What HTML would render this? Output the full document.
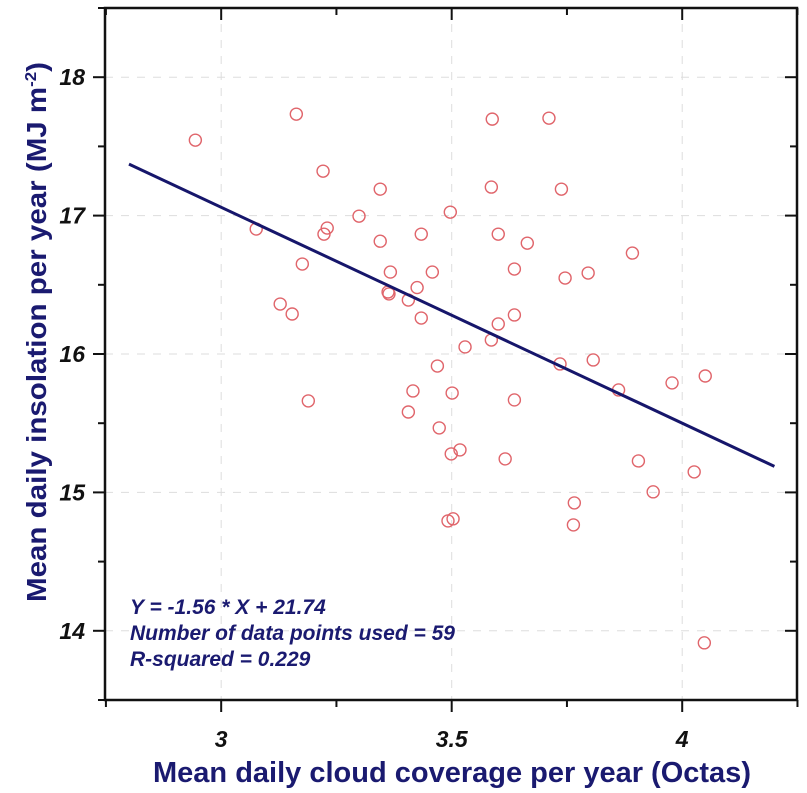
<!DOCTYPE html>
<html><head><meta charset="utf-8"><style>
body{margin:0;background:#fff;}
svg{display:block;font-family:"Liberation Sans",sans-serif;}
</style></head><body>
<svg id="chart" width="807" height="793">
<g id="grid"></g>
<g id="axes"></g>
<g id="marks"></g>
<text x="130" y="614" font-size="21" font-style="italic" font-weight="bold" fill="#1a1a70">Y = -1.56 * X + 21.74</text>
<text x="130" y="640" font-size="21" font-style="italic" font-weight="bold" fill="#1a1a70">Number of data points used = 59</text>
<text x="130" y="666" font-size="21" font-style="italic" font-weight="bold" fill="#1a1a70">R-squared = 0.229</text>
<text x="452" y="782" text-anchor="middle" font-size="29" font-weight="bold" fill="#1a1a70">Mean daily cloud coverage per year (Octas)</text>
<text transform="translate(46,332) rotate(-90)" text-anchor="middle" font-size="28" font-weight="bold" fill="#1a1a70" textLength="540" lengthAdjust="spacingAndGlyphs">Mean daily insolation per year (MJ m<tspan dy="-10" font-size="16">-2</tspan><tspan dy="10">)</tspan></text>
</svg>
<script>
const xTicks=[3,3.5,4];
const yTicks=[14,15,16,17,18];
const cloudX=[2.944,3.163,3.588,3.711,3.221,3.299,3.345,3.497,3.586,3.738,3.892,3.076,3.230,3.223,3.176,3.345,3.434,3.601,3.664,3.367,3.458,3.636,3.746,3.796,3.362,3.364,3.406,3.425,3.434,3.128,3.154,3.601,3.636,3.586,3.529,3.469,3.735,3.807,3.189,3.416,3.406,3.501,3.636,3.862,3.978,4.050,3.473,3.499,3.518,3.616,3.905,4.026,3.937,3.766,3.764,3.492,3.503,4.048];
const insolY=[17.545,17.733,17.697,17.704,17.321,16.996,17.191,17.025,17.206,17.191,16.729,16.903,16.910,16.866,16.650,16.815,16.866,16.866,16.801,16.592,16.592,16.614,16.549,16.585,16.448,16.434,16.390,16.480,16.260,16.361,16.289,16.217,16.282,16.101,16.051,15.913,15.928,15.957,15.661,15.733,15.581,15.718,15.668,15.740,15.791,15.841,15.466,15.278,15.307,15.242,15.227,15.148,15.004,14.924,14.765,14.794,14.809,13.913];
const slope=-1.56, intercept=21.74, fitRange=[2.8,4.2];
const L=105,R=797,T=8,B=700,X0=2.748,X1=4.249,Y0=13.5,Y1=18.5;
const sx=v=>L+(v-X0)/(X1-X0)*(R-L);
const sy=v=>B-(v-Y0)/(Y1-Y0)*(B-T);
const NS='http://www.w3.org/2000/svg';
function mk(t,a,p){const e=document.createElementNS(NS,t);for(const k in a)e.setAttribute(k,a[k]);p.appendChild(e);return e;}
const grid=document.getElementById('grid'),axes=document.getElementById('axes'),marks=document.getElementById('marks');
xTicks.forEach(v=>{const g=mk('line',{x1:sx(v),x2:sx(v),y1:T,y2:B,stroke:'#ddd','stroke-dasharray':'8,8','stroke-width':1},grid);


const t=mk('text',{x:sx(v),y:747,'text-anchor':'middle','font-size':23,'font-weight':'bold','font-style':'italic',fill:'#111'},axes);t.textContent=v;

});
yTicks.forEach(v=>{const g=mk('line',{x1:L,x2:R,y1:sy(v),y2:sy(v),stroke:'#ddd','stroke-dasharray':'8,8','stroke-width':1},grid);


const t=mk('text',{x:85,y:sy(v)+8,'text-anchor':'end','font-size':23,'font-weight':'bold','font-style':'italic',fill:'#111'},axes);t.textContent=v;

});
for(let v=2.75;v<=4.25;v+=0.25){const maj=Math.abs(v*2-Math.round(v*2))<1e-6;const len=maj?12:7;
mk('line',{x1:sx(v),x2:sx(v),y1:B,y2:B+len,stroke:'#111','stroke-width':2},axes);
mk('line',{x1:sx(v),x2:sx(v),y1:T,y2:T+len,stroke:'#111','stroke-width':2},axes);}
for(let v=13.5;v<=18.5;v+=0.5){const maj=Math.abs(v-Math.round(v))<1e-6;const len=maj?12:7;
mk('line',{x1:L-len,x2:L,y1:sy(v),y2:sy(v),stroke:'#111','stroke-width':2},axes);
mk('line',{x1:R-len,x2:R,y1:sy(v),y2:sy(v),stroke:'#111','stroke-width':2},axes);}
const fr=mk('rect',{x:L,y:T,width:R-L,height:B-T,fill:'none',stroke:'#111','stroke-width':2.5},axes);


cloudX.forEach((x,i)=>{const c=mk('circle',{cx:sx(x),cy:sy(insolY[i]),r:6,fill:'none',stroke:'#e0656b','stroke-width':1.4},marks);

});
const fl=mk('line',{x1:sx(fitRange[0]),y1:sy(slope*fitRange[0]+intercept),x2:sx(fitRange[1]),y2:sy(slope*fitRange[1]+intercept),stroke:'#16166b','stroke-width':3},marks);


</script>
</body></html>
